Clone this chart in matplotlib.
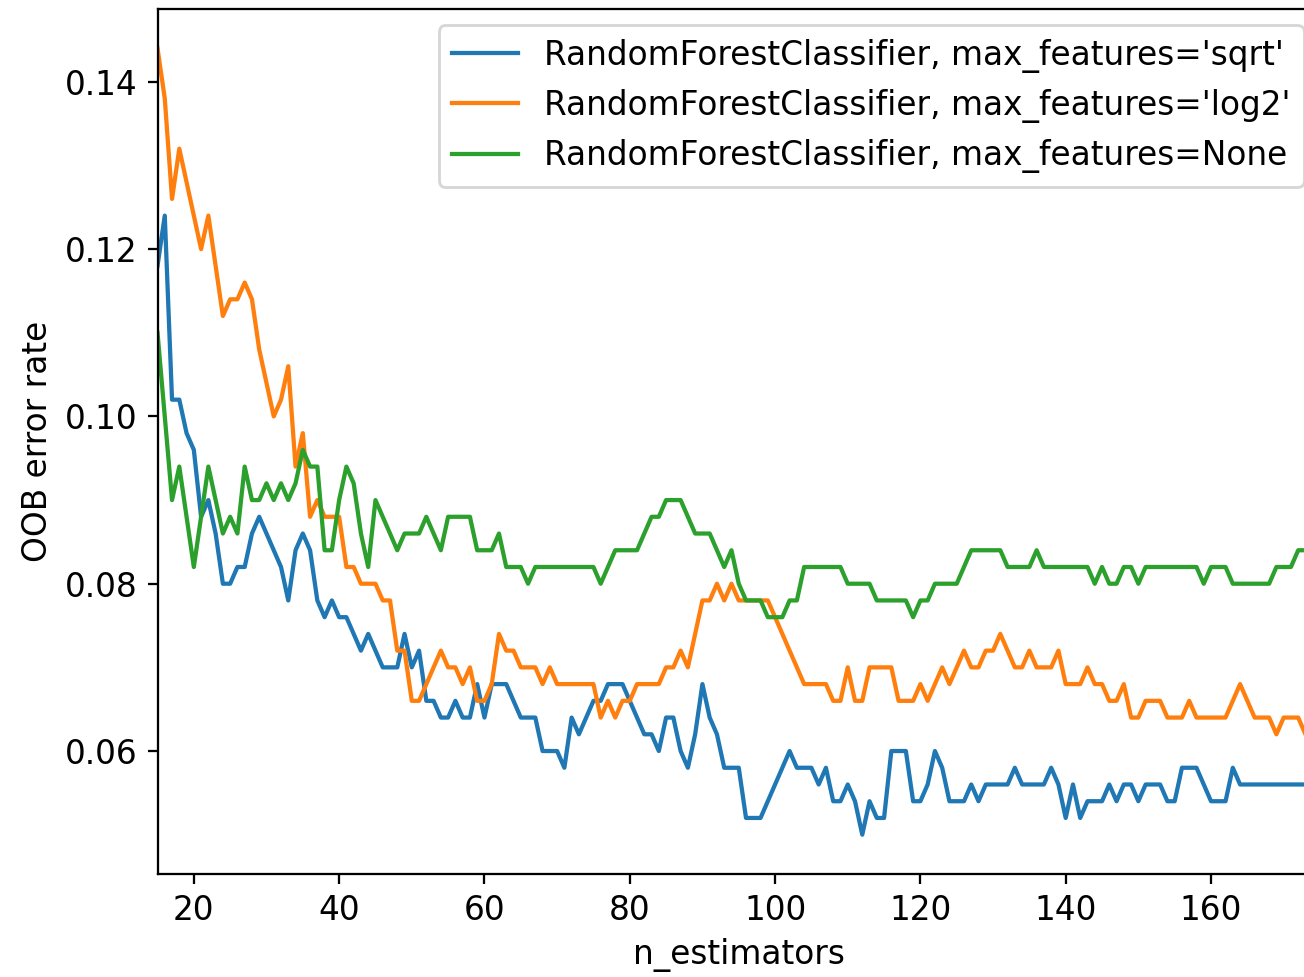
import matplotlib
matplotlib.use("Agg")
import matplotlib.pyplot as plt

plt.rcParams["font.size"] = 11.6

min_estimators = 15
max_estimators = 175
n_estimators = list(range(min_estimators, max_estimators + 1))

labels = [
    "RandomForestClassifier, max_features='sqrt'",
    "RandomForestClassifier, max_features='log2'",
    "RandomForestClassifier, max_features=None",
]

err_sqrt = [
    0.118, 0.124, 0.102, 0.102, 0.098, 0.096, 0.088, 0.090, 0.086, 0.080,
    0.080, 0.082, 0.082, 0.086, 0.088, 0.086, 0.084, 0.082, 0.078, 0.084,
    0.086, 0.084, 0.078, 0.076, 0.078, 0.076, 0.076, 0.074, 0.072, 0.074,
    0.072, 0.070, 0.070, 0.070, 0.074, 0.070, 0.072, 0.066, 0.066, 0.064,
    0.064, 0.066, 0.064, 0.064, 0.068, 0.064, 0.068, 0.068, 0.068, 0.066,
    0.064, 0.064, 0.064, 0.060, 0.060, 0.060, 0.058, 0.064, 0.062, 0.064,
    0.066, 0.066, 0.068, 0.068, 0.068, 0.066, 0.064, 0.062, 0.062, 0.060,
    0.064, 0.064, 0.060, 0.058, 0.062, 0.068, 0.064, 0.062, 0.058, 0.058,
    0.058, 0.052, 0.052, 0.052, 0.054, 0.056, 0.058, 0.060, 0.058, 0.058,
    0.058, 0.056, 0.058, 0.054, 0.054, 0.056, 0.054, 0.050, 0.054, 0.052,
    0.052, 0.060, 0.060, 0.060, 0.054, 0.054, 0.056, 0.060, 0.058, 0.054,
    0.054, 0.054, 0.056, 0.054, 0.056, 0.056, 0.056, 0.056, 0.058, 0.056,
    0.056, 0.056, 0.056, 0.058, 0.056, 0.052, 0.056, 0.052, 0.054, 0.054,
    0.054, 0.056, 0.054, 0.056, 0.056, 0.054, 0.056, 0.056, 0.056, 0.054,
    0.054, 0.058, 0.058, 0.058, 0.056, 0.054, 0.054, 0.054, 0.058, 0.056,
    0.056, 0.056, 0.056, 0.056, 0.056, 0.056, 0.056, 0.056, 0.056, 0.058,
    0.058,
]

err_log2 = [
    0.144, 0.138, 0.126, 0.132, 0.128, 0.124, 0.120, 0.124, 0.118, 0.112,
    0.114, 0.114, 0.116, 0.114, 0.108, 0.104, 0.100, 0.102, 0.106, 0.094,
    0.098, 0.088, 0.090, 0.088, 0.088, 0.088, 0.082, 0.082, 0.080, 0.080,
    0.080, 0.078, 0.078, 0.072, 0.072, 0.066, 0.066, 0.068, 0.070, 0.072,
    0.070, 0.070, 0.068, 0.070, 0.066, 0.066, 0.068, 0.074, 0.072, 0.072,
    0.070, 0.070, 0.070, 0.068, 0.070, 0.068, 0.068, 0.068, 0.068, 0.068,
    0.068, 0.064, 0.066, 0.064, 0.066, 0.066, 0.068, 0.068, 0.068, 0.068,
    0.070, 0.070, 0.072, 0.070, 0.074, 0.078, 0.078, 0.080, 0.078, 0.080,
    0.078, 0.078, 0.078, 0.078, 0.078, 0.076, 0.074, 0.072, 0.070, 0.068,
    0.068, 0.068, 0.068, 0.066, 0.066, 0.070, 0.066, 0.066, 0.070, 0.070,
    0.070, 0.070, 0.066, 0.066, 0.066, 0.068, 0.066, 0.068, 0.070, 0.068,
    0.070, 0.072, 0.070, 0.070, 0.072, 0.072, 0.074, 0.072, 0.070, 0.070,
    0.072, 0.070, 0.070, 0.070, 0.072, 0.068, 0.068, 0.068, 0.070, 0.068,
    0.068, 0.066, 0.066, 0.068, 0.064, 0.064, 0.066, 0.066, 0.066, 0.064,
    0.064, 0.064, 0.066, 0.064, 0.064, 0.064, 0.064, 0.064, 0.066, 0.068,
    0.066, 0.064, 0.064, 0.064, 0.062, 0.064, 0.064, 0.064, 0.062, 0.062,
    0.062,
]

err_none = [
    0.110, 0.100, 0.090, 0.094, 0.088, 0.082, 0.088, 0.094, 0.090, 0.086,
    0.088, 0.086, 0.094, 0.090, 0.090, 0.092, 0.090, 0.092, 0.090, 0.092,
    0.096, 0.094, 0.094, 0.084, 0.084, 0.090, 0.094, 0.092, 0.086, 0.082,
    0.090, 0.088, 0.086, 0.084, 0.086, 0.086, 0.086, 0.088, 0.086, 0.084,
    0.088, 0.088, 0.088, 0.088, 0.084, 0.084, 0.084, 0.086, 0.082, 0.082,
    0.082, 0.080, 0.082, 0.082, 0.082, 0.082, 0.082, 0.082, 0.082, 0.082,
    0.082, 0.080, 0.082, 0.084, 0.084, 0.084, 0.084, 0.086, 0.088, 0.088,
    0.090, 0.090, 0.090, 0.088, 0.086, 0.086, 0.086, 0.084, 0.082, 0.084,
    0.080, 0.078, 0.078, 0.078, 0.076, 0.076, 0.076, 0.078, 0.078, 0.082,
    0.082, 0.082, 0.082, 0.082, 0.082, 0.080, 0.080, 0.080, 0.080, 0.078,
    0.078, 0.078, 0.078, 0.078, 0.076, 0.078, 0.078, 0.080, 0.080, 0.080,
    0.080, 0.082, 0.084, 0.084, 0.084, 0.084, 0.084, 0.082, 0.082, 0.082,
    0.082, 0.084, 0.082, 0.082, 0.082, 0.082, 0.082, 0.082, 0.082, 0.080,
    0.082, 0.080, 0.080, 0.082, 0.082, 0.080, 0.082, 0.082, 0.082, 0.082,
    0.082, 0.082, 0.082, 0.082, 0.080, 0.082, 0.082, 0.082, 0.080, 0.080,
    0.080, 0.080, 0.080, 0.080, 0.082, 0.082, 0.082, 0.084, 0.084, 0.084,
    0.084,
]

series = [err_sqrt, err_log2, err_none]

DPI = 203.75
fig = plt.figure(figsize=(1304 / DPI, 977 / DPI), dpi=DPI)
W, H = 1304, 977
left_px, right_px = 157.5, 1320.0
top_px, bottom_px = 9.0, 874.0
ax = fig.add_axes([left_px / W, 1 - bottom_px / H,
                   (right_px - left_px) / W, (bottom_px - top_px) / H])

for lab, ys in zip(labels, series):
    ax.plot(n_estimators, ys, label=lab)

ax.set_xlim(min_estimators, max_estimators)
ax.set_xlabel("n_estimators")
ax.set_ylabel("OOB error rate")
ax.legend(loc="upper right")

fig.savefig("out.png", dpi=DPI)
